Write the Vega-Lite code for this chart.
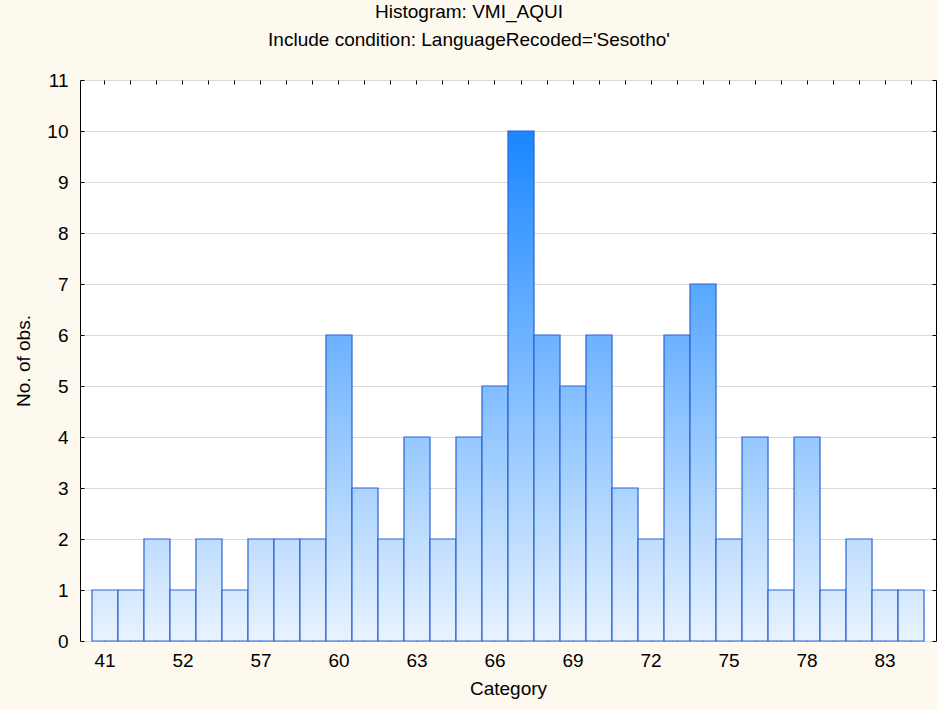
{
  "$schema": "https://vega.github.io/schema/vega-lite/v6.json",
  "width": 856,
  "height": 561,
  "autosize": {"type": "none"},
  "padding": {"left": 80, "top": 80, "right": 1, "bottom": 69},
  "background": "#fdf9ee",
  "config": {
    "font": "Liberation Sans",
    "view": {"fill": "white", "stroke": "black", "strokeWidth": 1},
    "axis": {"labelFont": "Liberation Sans", "titleFont": "Liberation Sans", "labelFontSize": 19, "titleFontSize": 19, "titleFontWeight": "normal", "labelColor": "black", "titleColor": "black", "domain": false, "tickColor": "black", "tickSize": -4, "tickWidth": 1}
  },
  "title": {
    "text": ["Histogram: VMI_AQUI", "Include condition: LanguageRecoded='Sesotho'"],
    "fontSize": 19, "font": "Liberation Sans", "fontWeight": "normal", "color": "black",
    "lineHeight": 28, "anchor": "middle", "dx": -39, "offset": 21
  },
  "data": {"values": [
    {"category": 41, "n": 1}, {"category": 45, "n": 1}, {"category": 48, "n": 2}, {"category": 52, "n": 1},
    {"category": 54, "n": 2}, {"category": 55, "n": 1}, {"category": 57, "n": 2}, {"category": 58, "n": 2},
    {"category": 59, "n": 2}, {"category": 60, "n": 6}, {"category": 61, "n": 3}, {"category": 62, "n": 2},
    {"category": 63, "n": 4}, {"category": 64, "n": 2}, {"category": 65, "n": 4}, {"category": 66, "n": 5},
    {"category": 67, "n": 10}, {"category": 68, "n": 6}, {"category": 69, "n": 5}, {"category": 70, "n": 6},
    {"category": 71, "n": 3}, {"category": 72, "n": 2}, {"category": 73, "n": 6}, {"category": 74, "n": 7},
    {"category": 75, "n": 2}, {"category": 76, "n": 4}, {"category": 77, "n": 1}, {"category": 78, "n": 4},
    {"category": 80, "n": 1}, {"category": 81, "n": 2}, {"category": 83, "n": 1}, {"category": 85, "n": 1}
  ]},
  "encoding": {
    "x": {"field": "category", "type": "ordinal", "sort": "ascending", "scale": {"paddingInner": 0, "paddingOuter": 0.46}},
    "y": {"field": "n", "type": "quantitative", "scale": {"domain": [0, 11], "nice": false}}
  },
  "layer": [
    {
      "mark": {"type": "bar", "stroke": "#2b62d9", "strokeWidth": 1.2},
      "encoding": {
        "x": {"field": "category", "type": "ordinal", "title": "Category",
          "axis": {"orient": "bottom", "labelAngle": 0, "labelPadding": 14, "titlePadding": 9,
            "labelExpr": "indexof(['41','52','57','60','63','66','69','72','75','78','83'], datum.label) >= 0 ? datum.label : ''"}},
        "y": {"field": "n", "type": "quantitative", "title": "No. of obs.",
          "axis": {"orient": "left", "values": [0,1,2,3,4,5,6,7,8,9,10,11], "grid": true, "gridColor": "#d9d9d9", "gridWidth": 1, "labelPadding": 16, "titlePadding": 13}},
        "color": {
          "condition": [
            {"test": "datum.n === 1", "value": {"gradient": "linear", "x1": 0, "y1": 1, "x2": 0, "y2": 0, "stops": [{"offset": 0, "color": "#e8f3fe"}, {"offset": 1, "color": "#d3e8ff"}]}},
            {"test": "datum.n === 2", "value": {"gradient": "linear", "x1": 0, "y1": 1, "x2": 0, "y2": 0, "stops": [{"offset": 0, "color": "#e8f3fe"}, {"offset": 1, "color": "#bfddff"}]}},
            {"test": "datum.n === 3", "value": {"gradient": "linear", "x1": 0, "y1": 1, "x2": 0, "y2": 0, "stops": [{"offset": 0, "color": "#e8f3fe"}, {"offset": 1, "color": "#aad3ff"}]}},
            {"test": "datum.n === 4", "value": {"gradient": "linear", "x1": 0, "y1": 1, "x2": 0, "y2": 0, "stops": [{"offset": 0, "color": "#e8f3fe"}, {"offset": 1, "color": "#95c8ff"}]}},
            {"test": "datum.n === 5", "value": {"gradient": "linear", "x1": 0, "y1": 1, "x2": 0, "y2": 0, "stops": [{"offset": 0, "color": "#e8f3fe"}, {"offset": 1, "color": "#81bdff"}]}},
            {"test": "datum.n === 6", "value": {"gradient": "linear", "x1": 0, "y1": 1, "x2": 0, "y2": 0, "stops": [{"offset": 0, "color": "#e8f3fe"}, {"offset": 1, "color": "#6cb2ff"}]}},
            {"test": "datum.n === 7", "value": {"gradient": "linear", "x1": 0, "y1": 1, "x2": 0, "y2": 0, "stops": [{"offset": 0, "color": "#e8f3fe"}, {"offset": 1, "color": "#57a7ff"}]}}
          ],
          "value": {"gradient": "linear", "x1": 0, "y1": 1, "x2": 0, "y2": 0, "stops": [{"offset": 0, "color": "#e8f3fe"}, {"offset": 1, "color": "#1987ff"}]}
        }
      }
    },
    {
      "mark": {"type": "bar", "opacity": 0},
      "encoding": {
        "x": {"field": "category", "type": "ordinal", "axis": {"orient": "top", "labels": false, "title": null, "grid": false}},
        "y": {"field": "n", "type": "quantitative", "axis": {"orient": "right", "labels": false, "title": null, "grid": false, "values": [0,1,2,3,4,5,6,7,8,9,10,11]}}
      }
    }
  ],
  "resolve": {"axis": {"x": "independent", "y": "independent"}}
}
